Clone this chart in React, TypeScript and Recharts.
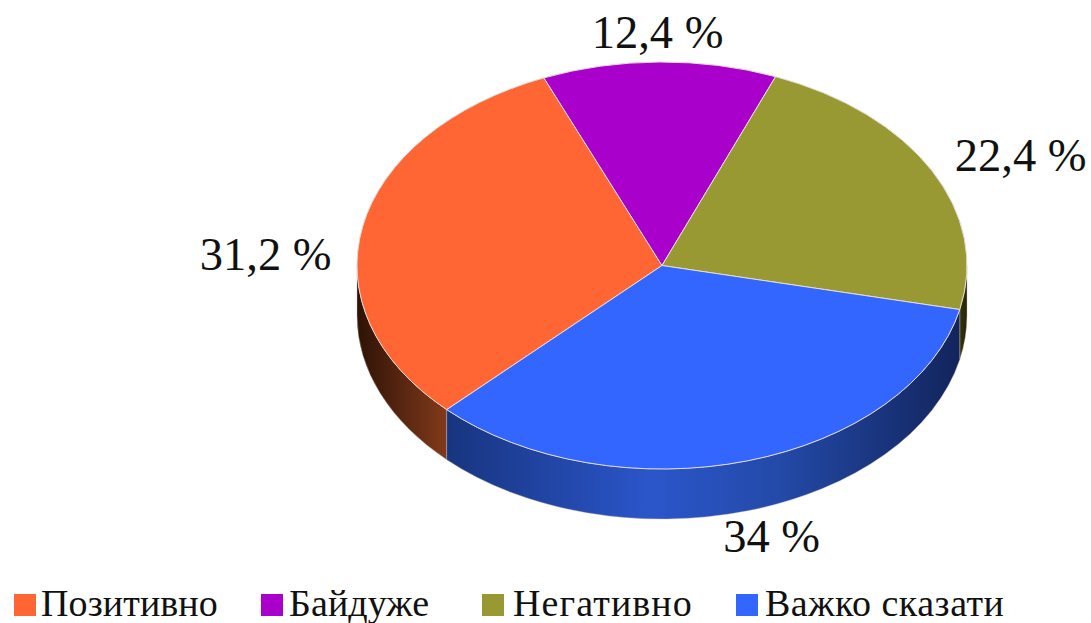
import React from 'react';
import { PieChart, Pie, Sector, Legend } from 'recharts';

const categories = ['Позитивно', 'Байдуже', 'Негативно', 'Важко сказати'];
const shares = [31.2, 12.4, 22.4, 34];
const sliceLabels = ['31,2 %', '12,4 %', '22,4 %', '34 %'];
const colors = ['#ff6633', '#aa00cc', '#999933', '#3366ff'];
const wallGradients = ['wallOrange', 'wallPurple', 'wallOlive', 'wallBlue'];

// where each label sits relative to the slice's rim point
const labelShift = [
    [-97, 28],
    [-2, -30],
    [89, -15],
    [24, 76],
];

const CX = 662;
const CY = 265.5;
const RX = 305;
const SQUASH = 203.5 / 305;
const DEPTH = 50;
const FONT = '"Liberation Serif", "Times New Roman", serif';

const tableData = categories.map((name, i) => ({ name, value: shares[i], fill: colors[i] }));

const rim = (deg: number, drop = 0) => {
    const a = (deg * Math.PI) / 180;
    return [CX + RX * Math.cos(a), CY - RX * SQUASH * Math.sin(a) + drop];
};

// side wall for the part of the slice that faces the viewer
const wallPath = (from: number, to: number) => {
    const hi = Math.max(from, to);
    const lo = Math.min(from, to);
    for (const [min, max] of [[-180, 0], [180, 360]]) {
        const a = Math.max(lo, min);
        const b = Math.min(hi, max);
        if (b - a > 0.01) {
            const [x1, y1] = rim(a);
            const [x2, y2] = rim(b);
            const ry = RX * SQUASH;
            return `M${x1},${y1} A${RX},${ry} 0 0 0 ${x2},${y2} L${x2},${y2 + DEPTH} A${RX},${ry} 0 0 1 ${x1},${y1 + DEPTH} Z`;
        }
    }
    return null;
};

const SliceShape = (props: any) => {
    const { cx, cy, index, startAngle, endAngle, fill } = props;
    const wall = wallPath(startAngle, endAngle);
    return (
        <g>
            {wall && <path d={wall} fill={`url(#${wallGradients[index]})`} stroke="#c8b8b0" strokeWidth={0.4} />}
            <g transform={`translate(${cx},${cy}) scale(1,${SQUASH}) translate(${-cx},${-cy})`}>
                <Sector {...props} fill={fill} stroke="#e6dcd8" strokeWidth={1} vectorEffect="non-scaling-stroke" />
            </g>
        </g>
    );
};

const SliceLabel = (props: any) => {
    const { midAngle, index } = props;
    const [x, y] = rim(midAngle);
    return (
        <text
            x={x + labelShift[index][0]}
            y={y + labelShift[index][1]}
            textAnchor="middle"
            dominantBaseline="central"
            fontFamily={FONT}
            fontSize={46.5}
            fill="#111"
        >
            {sliceLabels[index]}
        </text>
    );
};

const legendItemWidths = [247, 221, 254, 300];
const legendTextGap = [5, 6, 9, 7];
const legendSpacing = [0.1, 0.1, 1.1, 0.5];

const LegendRow = ({ payload }: any) => (
    <div style={{ display: 'flex', alignItems: 'center', fontFamily: FONT, fontSize: 38, color: '#111', lineHeight: '34px', whiteSpace: 'nowrap' }}>
        {(payload || []).map((entry: any, i: number) => (
            <div key={entry.value} style={{ display: 'flex', alignItems: 'center', width: legendItemWidths[i] }}>
                <span style={{ width: 22, height: 22, background: colors[i], marginRight: legendTextGap[i], marginTop: 4, display: 'inline-block' }} />
                <span style={{ letterSpacing: legendSpacing[i] }}>{entry.value}</span>
            </div>
        ))}
    </div>
);

export default function App() {
    return (
        <div style={{ position: 'absolute', left: 0, top: 0, width: 1091, height: 623, background: '#fff' }}>
            <PieChart width={1091} height={623} margin={{ top: 0, right: 0, bottom: 0, left: 0 }}>
                <defs>
                    <linearGradient id="wallOrange" gradientUnits="userSpaceOnUse" x1={357} y1={0} x2={445} y2={0}>
                        <stop offset="0%" stopColor="#2e1206" />
                        <stop offset="100%" stopColor="#80391a" />
                    </linearGradient>
                    <linearGradient id="wallPurple" gradientUnits="userSpaceOnUse" x1={357} y1={0} x2={967} y2={0}>
                        <stop offset="0%" stopColor="#550066" />
                        <stop offset="100%" stopColor="#550066" />
                    </linearGradient>
                    <linearGradient id="wallOlive" gradientUnits="userSpaceOnUse" x1={955} y1={0} x2={967} y2={0}>
                        <stop offset="0%" stopColor="#3a3a0c" />
                        <stop offset="100%" stopColor="#26260a" />
                    </linearGradient>
                    <linearGradient id="wallBlue" gradientUnits="userSpaceOnUse" x1={445} y1={0} x2={960} y2={0}>
                        <stop offset="0%" stopColor="#17347e" />
                        <stop offset="40%" stopColor="#2b56cb" />
                        <stop offset="65%" stopColor="#234aa8" />
                        <stop offset="100%" stopColor="#12245c" />
                    </linearGradient>
                </defs>
                <Pie
                    data={tableData}
                    dataKey="value"
                    nameKey="name"
                    cx={CX}
                    cy={CY}
                    outerRadius={RX}
                    startAngle={225.1}
                    endAngle={-134.9}
                    shape={SliceShape}
                    label={SliceLabel}
                    labelLine={false}
                    isAnimationActive={false}
                />
                <Legend
                    content={LegendRow}
                    itemSorter={null}
                    wrapperStyle={{ position: 'absolute', left: 14, top: 586, width: 1070 }}
                />
            </PieChart>
        </div>
    );
}
